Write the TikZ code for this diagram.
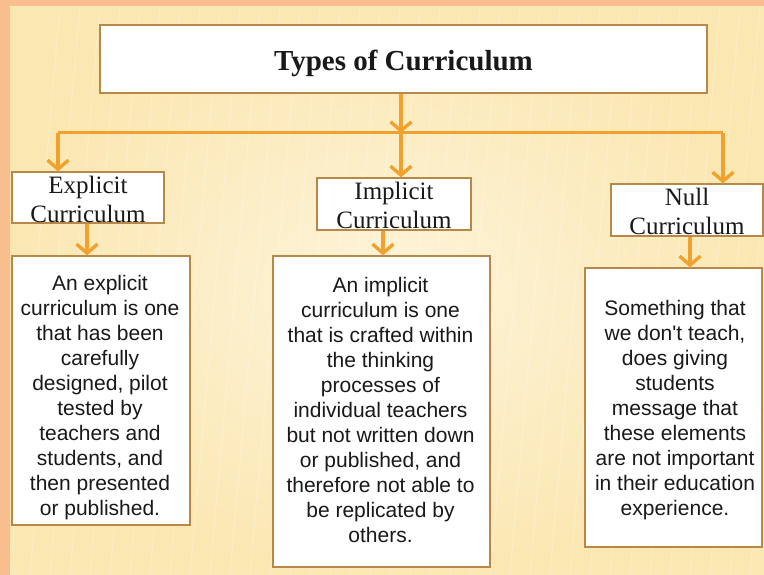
\documentclass[tikz,border=0pt]{standalone}
\usepackage{fontspec}
\setmainfont{Liberation Serif}
\newfontfamily\arialf{Liberation Sans}
\usetikzlibrary{arrows.meta,calc}
\definecolor{peach}{RGB}{249,190,142}
\definecolor{cream}{RGB}{251,231,178}
\definecolor{creamlight}{RGB}{253,244,218}
\definecolor{arrowc}{RGB}{241,162,46}
\definecolor{boxc}{RGB}{185,135,72}
\definecolor{txt}{RGB}{25,25,25}
\tikzset{
  box/.style={draw=boxc, fill=white, line width=1.3pt, inner sep=0pt, rectangle},
  arr/.style={draw=arrowc, line width=3.2pt, -{Straight Barb[length=9pt,width=21pt,line width=3.4pt]}},
  bar/.style={draw=arrowc, line width=3pt},
  titletext/.style={font=\fontsize{29}{34}\selectfont\bfseries, text=txt, inner sep=0pt},
  labeltext/.style={font=\fontsize{25}{29}\selectfont, text=txt, align=center, inner sep=0pt},
  desctext/.style={font=\arialf\fontsize{21}{25}\selectfont, text=txt, align=center, inner sep=0pt}
}
\begin{document}
\begin{tikzpicture}[x=1pt,y=-1pt]
\useasboundingbox (0,0) rectangle (764,575);
% background
\fill[peach] (0,0) rectangle (764,575);
\fill[cream] (10,6) rectangle (764,575);
\shade[inner color=creamlight, outer color=cream] (10,6) rectangle (764,575);
\foreach \i in {0,...,38}{
  \draw[white, opacity=0.22, line width=1.2pt] ({10+\i*20},575) -- ({60+\i*20},6);
}
\fill[peach] (0,0) rectangle (10,575);
\fill[peach] (0,0) rectangle (764,6);

% boxes
\node[box, minimum width=607pt, minimum height=68pt] (title) at (403.5,59) {};
\node[box, minimum width=152pt, minimum height=51pt] (expl) at (88,197.5) {};
\node[box, minimum width=154pt, minimum height=52pt] (impl) at (394,204) {};
\node[box, minimum width=152pt, minimum height=52pt] (null) at (687,210) {};
\node[box, minimum width=178pt, minimum height=269pt] (d1) at (101,390.5) {};
\node[box, minimum width=217pt, minimum height=311pt] (d2) at (381.5,411.5) {};
\node[box, minimum width=177pt, minimum height=279pt] (d3) at (673.5,407.5) {};

% connectors
\coordinate (j) at (401,133);
\coordinate (jl) at (58,133);
\coordinate (jr) at (723,133);
\draw[bar] (jl) -- (jr);
\draw[arr] (title.south -| j) -- (j);
\draw[arr] (jl) -- (jl |- expl.north);
\draw[arr] (j) -- (j |- impl.north);
\draw[arr] (jr) -- (jr |- null.north);
\coordinate (e1) at (87,0);
\coordinate (e2) at (383,0);
\coordinate (e3) at (690,0);
\draw[arr] (e1 |- expl.south) -- (e1 |- d1.north);
\draw[arr] (e2 |- impl.south) -- (e2 |- d2.north);
\draw[arr] (e3 |- null.south) -- (e3 |- d3.north);

% texts
\node[titletext, anchor=base] (ttitle) at (403.5,71) {Types of Curriculum};
\node[labeltext] (texpl) at (88,199) {Explicit\\Curriculum};
\node[labeltext] (timpl) at (394,205) {Implicit\\Curriculum};
\node[labeltext] (tnull) at (687,211) {Null\\Curriculum};
\node[desctext] (td1) at (100,398) {An explicit\\curriculum is one\\that has been\\carefully\\designed, pilot\\tested by\\teachers and\\students, and\\then presented\\or published.};
\node[desctext] (td2) at (380.5,410) {An implicit\\curriculum is one\\that is crafted within\\the thinking\\processes of\\individual teachers\\but not written down\\or published, and\\therefore not able to\\be replicated by\\others.};
\node[desctext] (td3) at (675,410.5) {Something that\\we don't teach,\\does giving\\students\\message that\\these elements\\are not important\\in their education\\experience.};
\end{tikzpicture}
\end{document}
